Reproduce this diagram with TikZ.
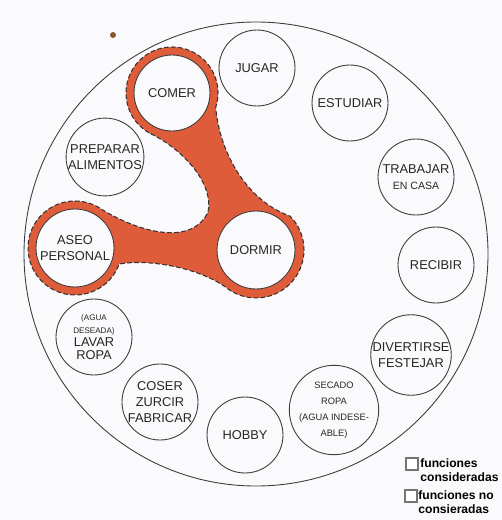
\documentclass[tikz,border=0pt]{standalone}
\usepackage{fontspec}
\setsansfont{Liberation Sans}
\usepackage{tikz}
\usetikzlibrary{positioning,backgrounds,calc}
\definecolor{paper}{RGB}{250,250,252}
\definecolor{redpencil}{RGB}{223,92,58}
\definecolor{pencil}{RGB}{60,60,60}
\newcommand{\smtxt}{\fontsize{5.3}{8.4}\selectfont}
\newcommand{\tntxt}{\fontsize{4.6}{5.6}\selectfont}
\tikzset{
  funbox/.style={circle, draw=pencil, line width=0.5pt, fill=paper,
                 minimum size=1.52cm, inner sep=0pt, align=center,
                 font=\sffamily\fontsize{7.3}{9}\selectfont, text=black!85},
  legbox/.style={rectangle, draw=black!55, fill=white, line width=0.6pt,
                 minimum size=0.24cm, inner sep=0pt},
  legtext/.style={anchor=west, align=left, inner sep=0pt,
                  font=\sffamily\bfseries\fontsize{6.9}{8}\selectfont},
  blob/.style={fill=redpencil, draw=black!80, line width=0.6pt,
               dash pattern=on 2.6pt off 1.4pt},
}

\begin{document}
\begin{tikzpicture}[x=0.02cm, y=-0.02cm]
  \useasboundingbox (0,0) rectangle (502,520);
  % outer ring
  \draw[pencil, line width=0.5pt] (256,254) circle[radius=232];
  \fill[brown!70!black] (113,35) circle[radius=3];
  % functions
  \node[funbox] (comer)    at (172,93)  {COMER};
  \node[funbox] (jugar)    at (257,68)  {JUGAR};
  \node[funbox] (estudiar) at (350,103) {ESTUDIAR};
  \node[funbox] (trabajar) at (416,177) {TRABAJAR\\\fontsize{6}{8}\selectfont EN CASA};
  \node[funbox] (recibir)  at (436,265) {RECIBIR};
  \node[funbox] (divertir) at (411,355) {DIVERTIRSE\\FESTEJAR};
  \node[funbox] (secado)   at (334,410) {\smtxt SECADO\\\smtxt ROPA\\\smtxt (AGUA INDESE-\\\smtxt ABLE)};
  \node[funbox] (hobby)    at (245,435) {HOBBY};
  \node[funbox] (coser)    at (160,402) {COSER\\ZURCIR\\FABRICAR};
  \node[funbox, font=\sffamily\fontsize{7.3}{7.4}\selectfont] (lavar) at (94,337)
    {\tntxt (AGUA\\\tntxt DESEADA)\\LAVAR\\ROPA};
  \node[funbox, minimum size=1.56cm] (aseo)   at (75,248)  {ASEO\\PERSONAL};
  \node[funbox] (preparar) at (105,157) {PREPARAR\\ALIMENTOS};
  \node[funbox, minimum size=1.56cm] (dormir) at (256,250) {DORMIR};
  % considered functions
  \begin{pgfonlayer}{background}
    \fill[paper] (0,0) rectangle (502,520);
    \path[blob] ($(comer)+(120:46)$) arc[start angle=120, end angle=378, radius=46]
      .. controls (219,150) and (245,200) .. ($(dormir)+(-45:48)$)
      arc[start angle=-45, end angle=130, radius=48]
      .. controls (195,266) and (145,259) .. ($(aseo)+(20:47)$)
      arc[start angle=20, end angle=300, radius=47]
      .. controls (130,228) and (190,250) .. (208,212)
      .. controls (214,185) and (185,150) .. cycle;
  \end{pgfonlayer}
  % legend
  \node[legbox] (boxa) at (412,464) {};
  \node[legtext] (texta) at (420,470) {funciones\\consideradas};
  \node[legbox] (boxb) at (411,496) {};
  \node[legtext] (textb) at (418,502) {funciones no\\consieradas};
\end{tikzpicture}
\end{document}
